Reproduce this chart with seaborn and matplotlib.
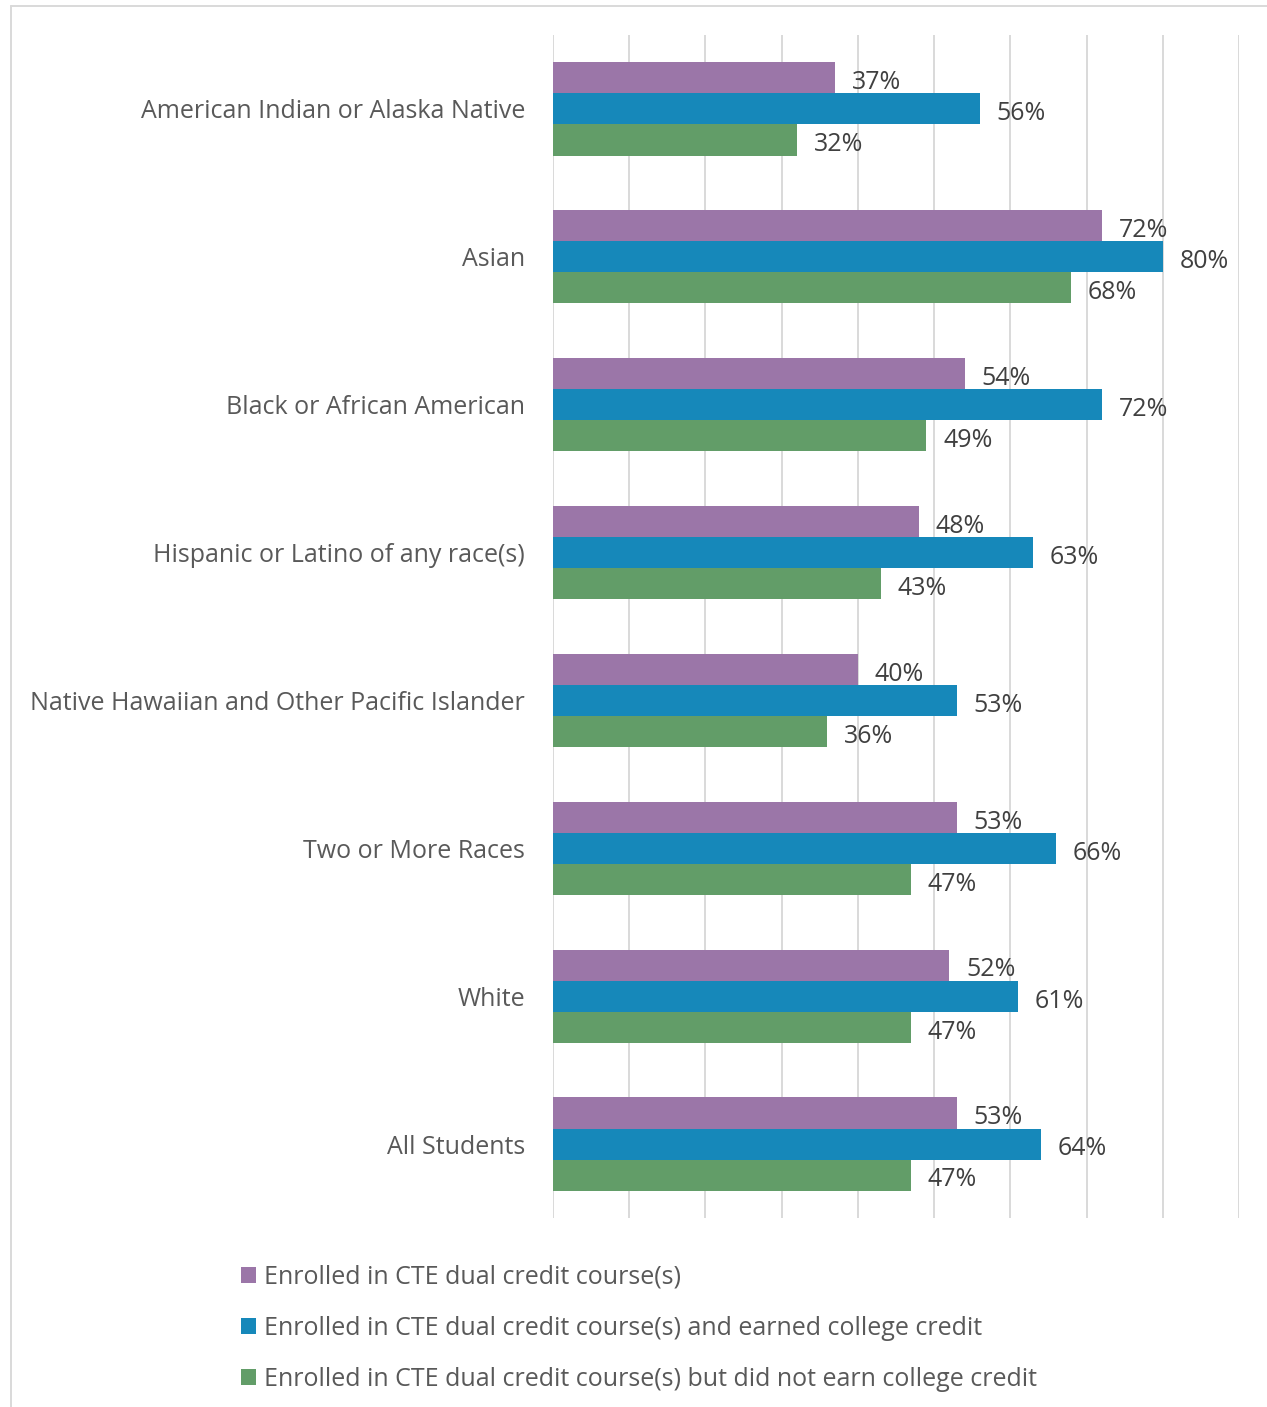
import matplotlib
matplotlib.use("Agg")
import matplotlib.pyplot as plt
from matplotlib.lines import Line2D
import seaborn as sns
import pandas as pd

groups = [
    "American Indian or Alaska Native",
    "Asian",
    "Black or African American",
    "Hispanic or Latino of any race(s)",
    "Native Hawaiian and Other Pacific Islander",
    "Two or More Races",
    "White",
    "All Students",
]
series_names = [
    "Enrolled in CTE dual credit course(s)",
    "Enrolled in CTE dual credit course(s) and earned college credit",
    "Enrolled in CTE dual credit course(s) but did not earn college credit",
]
enrolled = [37, 72, 54, 48, 40, 53, 52, 53]
earned = [56, 80, 72, 63, 53, 66, 61, 64]
not_earned = [32, 68, 49, 43, 36, 47, 47, 47]
colors = ["#9B76A8", "#1688BA", "#629D68"]

rows = []
for name, vals in zip(series_names, [enrolled, earned, not_earned]):
    for g, v in zip(groups, vals):
        rows.append({"group": g, "series": name, "value": v})
df = pd.DataFrame(rows)

sns.set_theme(style="white")
plt.rcParams["font.family"] = ["Open Sans", "DejaVu Sans"]

fig = plt.figure(figsize=(12.67, 14.07), dpi=100)
ax = fig.add_axes([553 / 1267, 1 - 1218 / 1407, (1239 - 553) / 1267, (1218 - 35) / 1407])

sns.barplot(data=df, y="group", x="value", hue="series", order=groups,
            hue_order=series_names, palette=colors, orient="h", width=0.63,
            linewidth=0, saturation=1, ax=ax, legend=True)

ax.set_xlim(0, 90)
ax.set_xticks(range(0, 91, 10))
ax.set_xticklabels([])
ax.grid(axis="x", color="#D9D9D9", linewidth=1.4)
ax.set_axisbelow(True)
for s in ax.spines.values():
    s.set_visible(False)
ax.tick_params(axis="both", length=0)
ax.tick_params(axis="y", labelsize=18, labelcolor="#595959", pad=20)
ax.set_xlabel("")
ax.set_ylabel("")

for cont in ax.containers:
    anns = ax.bar_label(cont, labels=[f"{int(round(w))}%" for w in cont.datavalues],
                        padding=12, fontsize=18, color="#404040")
    for a in anns:
        a.xyann = (12, -3.5)

handles, labels = ax.get_legend_handles_labels()
ax.get_legend().remove()
fig.legend(handles, labels, loc="upper left", bbox_to_anchor=(218 / 1267, 1 - 1242 / 1407),
           frameon=False, fontsize=18, labelcolor="#595959", handlelength=0.62,
           handleheight=0.62, handletextpad=0.32, labelspacing=1.05)

# panel frame
fig.add_artist(Line2D([11 / 1267, 1], [1 - 6 / 1407] * 2, color="#D9D9D9", lw=1.4,
                      transform=fig.transFigure))
fig.add_artist(Line2D([11 / 1267] * 2, [0, 1 - 6 / 1407], color="#D9D9D9", lw=1.4,
                      transform=fig.transFigure))

fig.savefig("out.png", dpi=100)
